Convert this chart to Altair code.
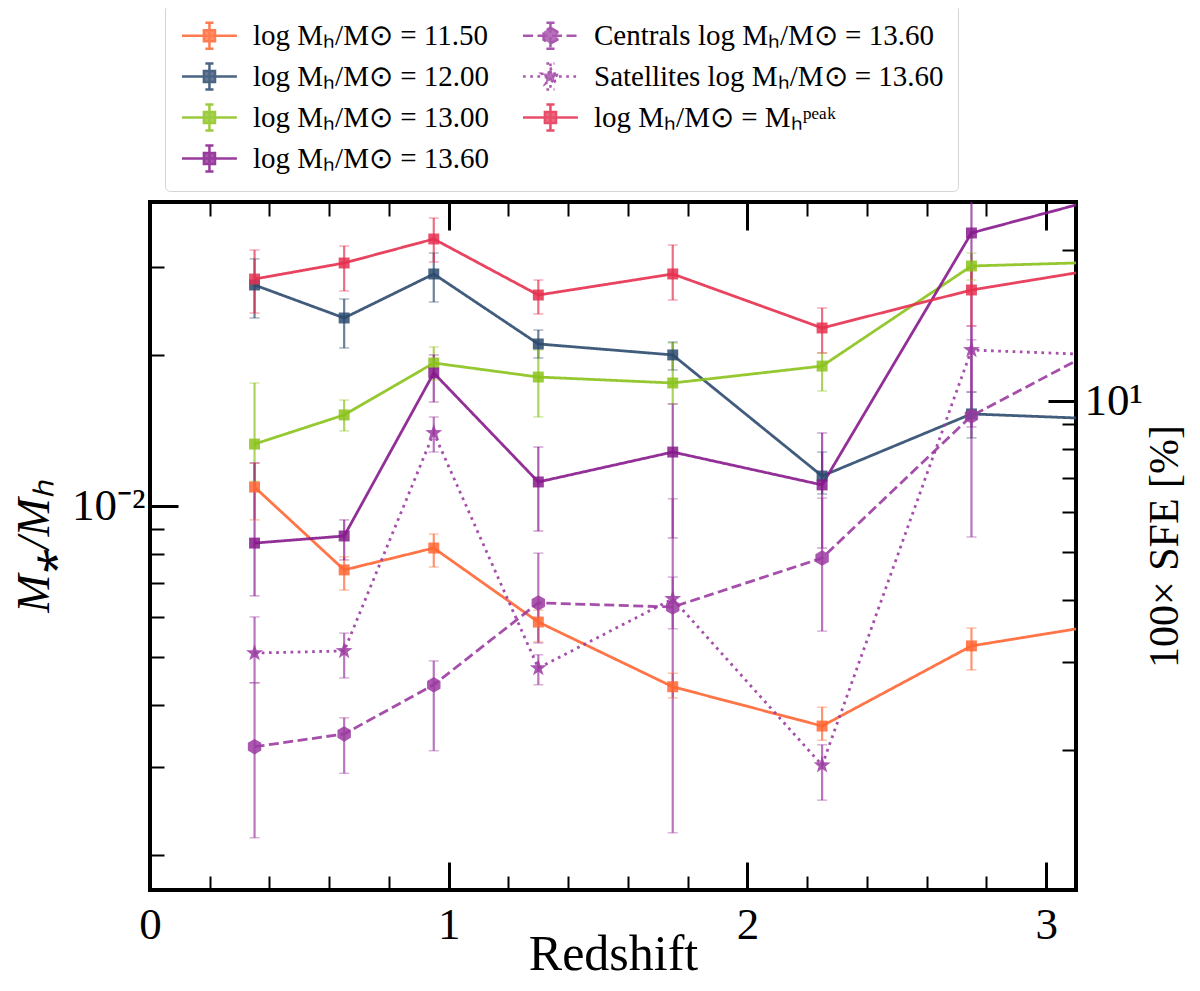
import altair as alt
import pandas as pd

# redshift bins (last bin sits beyond the plotted range)
redshift = [0.35, 0.65, 0.95, 1.3, 1.75, 2.25, 2.75, 3.25]

# M*/Mh per halo mass bin, with lower / upper error ends
m1150 = [0.01091, 0.00745, 0.00824, 0.00586, 0.00435, 0.00363, 0.00525, 0.00587]
m1150_lo = [0.00938, 0.00679, 0.00755, 0.00535, 0.00413, 0.00340, 0.00470, 0.00520]
m1150_hi = [0.01219, 0.00791, 0.00879, 0.00619, 0.00463, 0.00396, 0.00570, 0.00650]

m1200 = [0.02767, 0.02377, 0.02911, 0.02109, 0.02005, 0.01148, 0.01528, 0.01488]
m1200_lo = [0.02377, 0.02070, 0.02559, 0.01977, 0.01871, 0.01057, 0.01368, 0.01350]
m1200_hi = [0.03120, 0.02594, 0.03206, 0.02249, 0.02128, 0.01282, 0.01690, 0.01650]

m1300 = [0.01330, 0.01521, 0.01932, 0.01811, 0.01762, 0.01905, 0.03020, 0.03081]
m1300_lo = [0.01120, 0.01413, 0.01786, 0.01507, 0.01600, 0.01698, 0.02831, 0.02900]
m1300_hi = [0.01762, 0.01629, 0.02080, 0.02051, 0.02118, 0.02023, 0.03206, 0.03300]

m1360 = [0.00843, 0.00871, 0.01845, 0.01117, 0.01282, 0.01102, 0.03516, 0.04227]
m1360_lo = [0.00661, 0.00780, 0.01614, 0.00891, 0.00863, 0.00824, 0.01439, 0.03000]
m1360_hi = [0.01219, 0.00938, 0.02005, 0.01312, 0.01600, 0.01400, 0.05000, 0.05000]

cen1360 = [0.00330, 0.00350, 0.00439, 0.00640, 0.00628, 0.00787, 0.01514, 0.02176]
cen1360_lo = [0.00217, 0.00292, 0.00324, 0.00532, 0.00222, 0.00562, 0.00867, 0.01800]
cen1360_hi = [0.00443, 0.00377, 0.00490, 0.00805, 0.01034, 0.01037, 0.02150, 0.02600]

sat1360 = [0.00508, 0.00513, 0.01400, 0.00474, 0.00652, 0.00303, 0.02051, 0.01998]
sat1360_lo = [0.00443, 0.00453, 0.01282, 0.00439, 0.00568, 0.00258, 0.01690, 0.01700]
sat1360_hi = [0.00600, 0.00557, 0.01507, 0.00504, 0.00721, 0.00333, 0.02291, 0.02300]

mpeak = [0.02844, 0.03062, 0.03420, 0.02642, 0.02911, 0.02270, 0.02704, 0.03026]
mpeak_lo = [0.02432, 0.02692, 0.03076, 0.02421, 0.02582, 0.02023, 0.02291, 0.02600]
mpeak_hi = [0.03251, 0.03311, 0.03767, 0.02831, 0.03327, 0.02489, 0.02992, 0.03400]

names = [
    "log Mₕ/M⊙ = 11.50",
    "log Mₕ/M⊙ = 12.00",
    "log Mₕ/M⊙ = 13.00",
    "log Mₕ/M⊙ = 13.60",
    "Centrals log Mₕ/M⊙ = 13.60",
    "Satellites log Mₕ/M⊙ = 13.60",
    "log Mₕ/M⊙ = Mₕᵖᵉᵃᵏ",
]
colors = ["#ff6633", "#2c4a6e", "#8bc21c", "#861a8c", "#9b3ba1", "#9b3ba1", "#e5304f"]

values = [m1150, m1200, m1300, m1360, cen1360, sat1360, mpeak]
lows = [m1150_lo, m1200_lo, m1300_lo, m1360_lo, cen1360_lo, sat1360_lo, mpeak_lo]
highs = [m1150_hi, m1200_hi, m1300_hi, m1360_hi, cen1360_hi, sat1360_hi, mpeak_hi]

rows = []
for name, vals, lo, hi in zip(names, values, lows, highs):
    for z, v, l, h in zip(redshift, vals, lo, hi):
        rows.append({"series": name, "z": z, "ratio": v, "lo": l, "hi": h})
df = pd.DataFrame(rows)

solid = [names[i] for i in (0, 1, 2, 3, 6)]
HEX = "M0,-1L0.866,-0.5L0.866,0.5L0,1L-0.866,0.5L-0.866,-0.5Z"
STAR = ("M0,-1L0.235,-0.324L0.951,-0.309L0.38,0.124L0.588,0.809L0,0.4"
        "L-0.588,0.809L-0.38,0.124L-0.951,-0.309L-0.235,-0.324Z")

# legend symbols: line + error bar + marker, drawn a bit right of the symbol anchor
BAR = "M-0.9,0H2.76M0.93,-0.87V0.87M0.66,-0.87H1.2M0.66,0.87H1.2"
LEG_SQ = BAR + "M0.56,-0.37H1.3V0.37H0.56Z"
LEG_HEX = BAR + "M0.93,-0.53L1.389,-0.265L1.389,0.265L0.93,0.53L0.471,0.265L0.471,-0.265Z"
LEG_STAR = (BAR + "M0.93,-0.6L1.071,-0.194L1.501,-0.185L1.158,0.074L1.283,0.485L0.93,0.24"
            "L0.577,0.485L0.702,0.074L0.359,-0.185L0.789,-0.194Z")
leg_shapes = [LEG_SQ, LEG_SQ, LEG_SQ, LEG_SQ, LEG_HEX, LEG_STAR, LEG_SQ]
leg_dash = [[1, 0], [1, 0], [1, 0], [1, 0], [10, 4.5], [2.7, 4.5], [1, 0]]

FONT = "Liberation Serif"
x_ticks = [0, 0.2, 0.4, 0.6, 0.8, 1, 1.2, 1.4, 1.6, 1.8, 2, 2.2, 2.4, 2.6, 2.8, 3]
y_ticks = [0.002, 0.003, 0.004, 0.005, 0.006, 0.007, 0.008, 0.009, 0.01, 0.02, 0.03]
sfe_ticks = [2, 3, 4, 5, 6, 7, 8, 9, 10, 20]


def tick_size(test):
    return {"condition": {"test": test, "value": -28}, "value": -14}


def tick_width(test):
    return {"condition": {"test": test, "value": 3}, "value": 2}


xmajor = "datum.value % 1 == 0"
x_scale = alt.Scale(domain=[0, 3.1], nice=False, zero=False)
y_scale = alt.Scale(type="log", domain=[0.001706, 0.04055], nice=False)
sfe_scale = alt.Scale(type="log", domain=[1.052, 25.0], nice=False)
# data colour scale listed in reverse so it is not merged with the (hidden) legend scales
color_scale = alt.Scale(domain=names[::-1], range=colors[::-1])

x_bottom = alt.Axis(values=x_ticks, domain=False, grid=False, labelFlush=False,
                    tickSize=tick_size(xmajor), tickWidth=tick_width(xmajor),
                    labelExpr="datum.value % 1 == 0 ? format(datum.value, 'd') : ''",
                    labelFontSize=45, labelPadding=40, labelOverlap=False,
                    titleFontSize=50, titleY=79, titleBaseline="alphabetic")
x_top = alt.Axis(orient="top", values=x_ticks, domain=False, grid=False, labels=False,
                 tickSize=tick_size(xmajor), tickWidth=tick_width(xmajor), title=None)
y_left = alt.Axis(values=y_ticks, domain=False, grid=False,
                  tickSize=tick_size("datum.value == 0.01"),
                  tickWidth=tick_width("datum.value == 0.01"),
                  labelExpr="datum.value == 0.01 ? '10⁻²' : ''", labelOverlap=False,
                  labelFontSize=45, labelPadding=33, titleFontSize=46,
                  titleFontStyle="italic", titlePadding=13)
y_right = alt.Axis(orient="right", values=sfe_ticks, domain=False, grid=False,
                   tickSize=tick_size("datum.value == 10"),
                   tickWidth=tick_width("datum.value == 10"),
                   labelExpr="datum.value == 10 ? '10¹' : ''", labelOverlap=False,
                   labelFontSize=45, labelPadding=36, titleFontSize=42,
                   titleAngle=270, titlePadding=44)

X = alt.X("z:Q", scale=x_scale, axis=x_bottom, title="Redshift")
Y_TITLE = "M⁎/Mₕ"


def ycol(field):
    return alt.Y(f"{field}:Q", scale=y_scale, axis=y_left, title=Y_TITLE)


col = alt.Color("series:N", scale=color_scale, legend=None)
base = alt.Chart(df)

errbars = base.mark_rule(strokeWidth=2.2, opacity=0.7, clip=True).encode(
    x=X, y=ycol("lo"), y2="hi:Q", color=col
)
caps = base.transform_fold(["lo", "hi"], as_=["end", "cap"]).mark_tick(
    orient="horizontal", size=10, thickness=1.5, opacity=0.4, clip=True
).encode(x=X, y=ycol("cap"), color=col)


def lines(keep, dash):
    return base.transform_filter(alt.FieldOneOfPredicate(field="series", oneOf=keep)).mark_line(
        strokeWidth=2.8, opacity=0.9, strokeDash=dash, clip=True
    ).encode(x=X, y=ycol("ratio"), color=col, detail="series:N")


def markers(keep, shape, size):
    return base.transform_filter(alt.FieldOneOfPredicate(field="series", oneOf=keep)).mark_point(
        filled=True, shape=shape, size=size, opacity=0.85, clip=True
    ).encode(x=X, y=ycol("ratio"), color=col)


data_layers = alt.layer(
    errbars,
    caps,
    lines(solid, [1, 0]),
    lines([names[4]], [10, 4.5]),
    lines([names[5]], [2.7, 4.5]),
    markers(solid, "square", 120),
    markers([names[4]], HEX, 240),
    markers([names[5]], STAR, 320),
)

# legend-only layer (no rows survive the filter); it also carries the top and right axes
leg = alt.Legend(title=None, orient="none", legendX=15, legendY=-197, columns=2)
guide_layer = base.transform_filter("false").mark_point(
    filled=True, opacity=0.85, strokeWidth=2.5
).encode(
    x=alt.X("z:Q", scale=x_scale, axis=x_top),
    y=alt.Y("ratio:Q", scale=sfe_scale, axis=y_right, title="100× SFE [%]"),
    fill=alt.Fill("series:N", scale=alt.Scale(domain=names, range=colors), legend=leg),
    stroke=alt.Stroke("series:N", scale=alt.Scale(domain=names, range=colors), legend=leg),
    shape=alt.Shape("series:N", scale=alt.Scale(domain=names, range=leg_shapes), legend=leg),
    strokeDash=alt.StrokeDash("series:N", scale=alt.Scale(domain=names, range=leg_dash),
                              legend=leg),
)

chart = (
    alt.layer(data_layers, guide_layer)
    .resolve_scale(y="independent")
    .resolve_axis(x="independent", y="independent")
    .properties(
        width=926, height=688,
        autosize=alt.AutoSizeParams(type="none"),
        padding={"left": 142, "top": 194, "right": 116, "bottom": 93},
    )
    .configure_view(stroke="black", strokeWidth=4)
    .configure_axis(labelFont=FONT, titleFont=FONT, labelColor="black", titleColor="black",
                    tickColor="black", titleFontWeight="normal")
    .configure_legend(labelFont=FONT, labelFontSize=29, labelColor="black", labelLimit=600,
                      symbolSize=900, symbolStrokeWidth=2.5, labelOffset=41,
                      rowPadding=4, columnPadding=28, padding=14, fillColor="white",
                      strokeColor="#d4d4d4", cornerRadius=5)
)

chart.save("out.html", embed_options={"renderer": "svg", "actions": False})
